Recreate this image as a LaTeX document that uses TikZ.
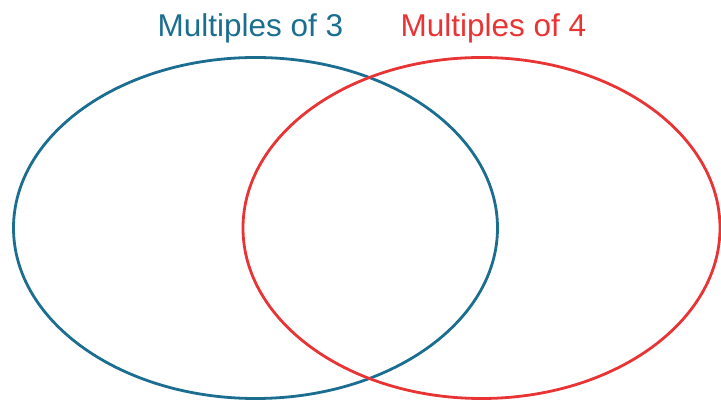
\documentclass[tikz,border=0pt]{standalone}
\usepackage{fontspec}
\setmainfont{Liberation Sans}
\usetikzlibrary{positioning}
\definecolor{threeblue}{RGB}{28,110,145}
\definecolor{fourred}{RGB}{232,52,52}

\begin{document}
\begin{tikzpicture}[
    x=1pt, y=1pt,
    setline/.style={line width=2.8pt},
    setname/.style={anchor=base, inner sep=0pt, font=\fontsize{31.5}{38}\selectfont}
]
  \useasboundingbox (0,0) rectangle (721,401);
  % centres of the two sets
  \coordinate (three) at (255.5,173);
  \coordinate (four) at (481.5,173);
  \draw[setline, threeblue] (three) ellipse (242 and 170.5);
  \draw[setline, fourred] (four) ellipse (238.5 and 170.5);
  % set names
  \node[setname, text=threeblue] (threename) at (250.5,364) {Multiples of 3};
  \node[setname, text=fourred] (fourname) at (493.5,364) {Multiples of 4};
\end{tikzpicture}
\end{document}
